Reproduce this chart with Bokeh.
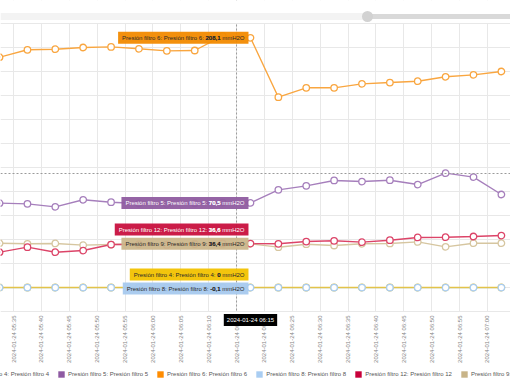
import pandas as pd
import math
from bokeh.plotting import figure
from bokeh.models import (Range1d, FixedTicker, DatetimeTickFormatter, Legend, LegendItem,
                          Label, Span, BoxAnnotation, ColumnDataSource, Grid)
from bokeh.embed import file_html
from bokeh.resources import INLINE

# ---------------- data ----------------
times = ["2024-01-24 05:30", "2024-01-24 05:35", "2024-01-24 05:40", "2024-01-24 05:45",
         "2024-01-24 05:50", "2024-01-24 05:55", "2024-01-24 06:00", "2024-01-24 06:05",
         "2024-01-24 06:10", "2024-01-24 06:15", "2024-01-24 06:20", "2024-01-24 06:25",
         "2024-01-24 06:30", "2024-01-24 06:35", "2024-01-24 06:40", "2024-01-24 06:45",
         "2024-01-24 06:50", "2024-01-24 06:55", "2024-01-24 07:00"]
tick_times = ["2024-01-24 05:35", "2024-01-24 05:40", "2024-01-24 05:45", "2024-01-24 05:50",
              "2024-01-24 05:55", "2024-01-24 06:00", "2024-01-24 06:05", "2024-01-24 06:10",
              "2024-01-24 06:15", "2024-01-24 06:20", "2024-01-24 06:25", "2024-01-24 06:30",
              "2024-01-24 06:35", "2024-01-24 06:40", "2024-01-24 06:45", "2024-01-24 06:50",
              "2024-01-24 06:55", "2024-01-24 07:00"]
y_ticks = [-20, 0, 20, 40, 60, 80, 100, 120, 140, 160, 180, 200, 220]

filtro_4 = [0, 0, 0, 0, 0, 0, 0, 0, 0, 0, 0, 0, 0, 0, 0, 0, 0, 0, 0]
filtro_5 = [70.3, 69.7, 67.2, 73.1, 71.1, 70.0, 69.5, 70.2, 70.8, 70.5,
            81.4, 84.7, 89.2, 88.3, 89.4, 85.8, 95.3, 92.0, 77.5]
filtro_6 = [191.9, 198.1, 198.6, 200.0, 200.5, 198.9, 197.2, 197.5, 209.7, 208.1,
            158.6, 166.4, 166.4, 169.7, 170.8, 171.9, 175.6, 177.2, 180.0]
filtro_8 = [-0.1, -0.1, -0.1, -0.1, -0.1, -0.1, -0.1, -0.1, -0.1, -0.1,
            -0.1, -0.1, -0.1, -0.1, -0.1, -0.1, -0.1, -0.1, -0.1]
filtro_12 = [29.4, 33.6, 29.4, 30.8, 35.8, 36.0, 35.5, 36.2, 36.8, 36.6,
             36.4, 38.3, 38.9, 37.8, 39.4, 41.7, 41.9, 42.5, 43.3]
filtro_9 = [36.9, 36.4, 36.7, 35.3, 35.8, 36.2, 36.0, 36.5, 36.3, 36.4,
            33.6, 36.1, 35.0, 36.4, 36.7, 38.0, 33.9, 36.9, 36.9]

names = ["Presión filtro 4: Presión filtro 4", "Presión filtro 5: Presión filtro 5",
         "Presión filtro 6: Presión filtro 6", "Presión filtro 8: Presión filtro 8",
         "Presión filtro 12: Presión filtro 12", "Presión filtro 9: Presión filtro 9"]
unit = "mmH2O"
hover_index = 9
cursor_value = 95

# ---------------- styling ----------------
FONT = "Liberation Sans"
swatch = ["#f2c200", "#8e5aa2", "#ff8c00", "#a9cdf2", "#c8003a", "#c8b488"]
line_c = ["#e3c34a", "#a67fbc", "#f9a640", "#a9cdf2", "#dc4468", "#d6c6a0"]
box_c = ["#f2c200", "#8f5ca0", "#f28a00", "#a6c9ee", "#c8103e", "#cbb68b"]
box_txt = ["#2a2a2a", "#ffffff", "#2a2a2a", "#2a2a2a", "#ffffff", "#2a2a2a"]
box_dy = [13, 0, 0, -1, 14, 0]
values = [filtro_4, filtro_5, filtro_6, filtro_8, filtro_12, filtro_9]


def ms(t):
    return pd.Timestamp(t).value / 1e6


HALF_CELL = 150000.0          # points sit in the middle of each 5-minute cell
xs = [ms(t) + HALF_CELL for t in times]
ticks = [ms(t) for t in tick_times]

# page-pixel helpers (layout only)
CELL_PX = 27.88
MS_PER_PX = 300000.0 / CELL_PX
PX_PER_UNIT = 1.2
W, H = 510, 382


def x_at(px):
    return ticks[0] + (px - 13) * MS_PER_PX


def y_at(py):
    return (287 - py) / PX_PER_UNIT


p = figure(frame_width=W, frame_height=H, x_axis_type="datetime",
           x_range=Range1d(x_at(0), x_at(W)), y_range=Range1d(y_at(H), y_at(0)),
           y_axis_location=None, output_backend="svg", toolbar_location=None,
           min_border_left=0, min_border_right=0, min_border_top=0, min_border_bottom=0)
p.outline_line_color = None
p.background_fill_color = "white"
p.border_fill_color = "white"

tk = FixedTicker(ticks=ticks)
ax = p.xaxis[0]
ax.ticker = tk
ax.fixed_location = y_ticks[0]
fmt_str = "%Y-%m-%d %H:%M"
ax.formatter = DatetimeTickFormatter(seconds=fmt_str, minsec=fmt_str, minutes=fmt_str,
                                     hourmin=fmt_str, hours=fmt_str, days=fmt_str)
ax.major_label_orientation = math.pi / 2
ax.major_label_text_font_size = "6px"
ax.major_label_text_font = FONT
ax.major_label_text_color = "#858585"
ax.major_tick_line_color = None
ax.minor_tick_line_color = None
ax.major_tick_out = 0
ax.major_tick_in = 0
ax.minor_tick_out = 0
ax.minor_tick_in = 0
ax.axis_line_color = None
ax.major_label_standoff = 4

p.xgrid.ticker = tk
p.xgrid.grid_line_color = "#e8e8e8"
p.ygrid.visible = False
p.add_layout(Grid(dimension=1, ticker=FixedTicker(ticks=y_ticks), grid_line_color="#e8e8e8"))

# cursor vertical line (below white covers)
p.add_layout(Span(location=ms(times[hover_index]), dimension="height", line_color="#9a9a9a",
                  line_dash="2 2", line_width=1, level="underlay"))
# white covers above and below the plotting area
p.add_layout(BoxAnnotation(bottom=y_ticks[-1] + 0.4, fill_color="white", fill_alpha=1,
                           line_color=None, level="underlay"))
p.add_layout(BoxAnnotation(top=y_ticks[0] - 0.4, fill_color="white", fill_alpha=1,
                           line_color=None, level="underlay"))
# scrollbar
p.add_layout(BoxAnnotation(left=x_at(0), right=x_at(363), top=y_at(12.5), bottom=y_at(19.5),
                           fill_color="#f3f3f3", fill_alpha=1, line_color=None))
p.add_layout(BoxAnnotation(left=x_at(367), right=x_at(W), top=y_at(13.5), bottom=y_at(18.5),
                           fill_color="#d9d9d9", fill_alpha=1, line_color=None))
p.add_layout(BoxAnnotation(left=x_at(361.5), right=x_at(372.5), top=y_at(10.5), bottom=y_at(21.5),
                           fill_color="#d2d2d2", fill_alpha=1, line_color=None, border_radius=6))

p.add_layout(Span(location=cursor_value, dimension="width", line_color="#9a9a9a",
                  line_dash="2 2", line_width=1))

# ---------------- series ----------------
srcs = [ColumnDataSource(dict(x=xs, y=v)) for v in values]
for i in [3, 0, 1, 2, 5, 4]:
    p.line("x", "y", source=srcs[i], line_color=line_c[i], line_width=1.4)
for i in [0, 3, 1, 2, 5, 4]:
    p.scatter("x", "y", source=srcs[i], size=6.5, marker="circle", fill_color="white",
              line_color=line_c[i], line_width=1.3)

# ---------------- legend (square swatches; zero-area quads on each series' first point) ----
items = []
for i, nm in enumerate(names):
    sw = ColumnDataSource(dict(l=xs[:1], r=xs[:1], t=values[i][:1], b=values[i][:1]))
    r = p.quad(left="l", right="r", top="t", bottom="b", source=sw, fill_color=swatch[i],
               line_color=None)
    items.append(LegendItem(label=nm, renderers=[r]))
legend = Legend(items=items, orientation="horizontal", location=(-42, 4), glyph_width=8,
                glyph_height=8, label_text_font_size="6px", label_text_font=FONT,
                label_text_color="#555555", label_standoff=3, spacing=8, padding=0, margin=0,
                border_line_color=None, background_fill_alpha=0, label_height=8)
p.add_layout(legend, "center")


# ---------------- tooltips ----------------
def fmt(v):
    s = f"{v:.1f}".replace(".", ",")
    return s[:-2] if s.endswith(",0") else s


PAD = dict(left=4, right=4, top=3, bottom=3)
SUFFIX_PX = 24.0
t_pt = xs[hover_index]
for i, nm in enumerate(names):
    v = values[i][hover_index]
    vt = fmt(v)
    full = f"{nm}: {vt} {unit}"
    p.add_layout(Label(x=t_pt, y=v, x_offset=-2, y_offset=box_dy[i], text=full,
                       text_align="right", text_baseline="middle", text_font=FONT,
                       text_font_size="6px", text_color=box_txt[i],
                       background_fill_color=box_c[i], background_fill_alpha=0.95, padding=PAD))
    p.add_layout(Label(x=t_pt, y=v, x_offset=-2 - 4 - SUFFIX_PX, y_offset=box_dy[i], text=vt,
                       text_align="right", text_baseline="middle", text_font=FONT,
                       text_font_size="6px", text_font_style="bold", text_color=box_txt[i]))

p.add_layout(Label(x=t_pt, y=y_ticks[0], y_offset=-8.5, text=times[hover_index],
                   text_align="center", text_baseline="middle", text_font=FONT,
                   text_font_size="6px", text_color="white", background_fill_color="black",
                   padding=dict(left=3, right=3, top=3, bottom=3)))

open("out.html", "w").write(file_html(p, INLINE))
